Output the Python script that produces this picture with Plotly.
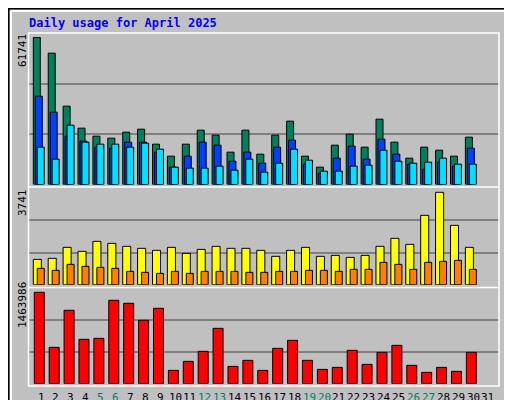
import plotly.graph_objects as go

days = list(range(1, 32))
day_labels = [str(d) for d in days]
weekend_days = [5, 6, 12, 13, 19, 20, 26, 27]
hits = [61741,55160,32900,23660,20300,19460,21980,23240,16940,11900,16940,22820,20720,13580,22820,12740,20720,26600,11900,7280,16520,21140,15680,27440,17780,11060,15680,14420,11900,19880,None]
files = [37100,30380,20300,18200,15680,15260,17780,17780,13580,7280,11900,17780,16520,9800,13580,8960,15680,18620,8540,4760,11060,16100,10640,19040,12740,8540,6440,9380,7700,15260,None]
pages = [15680,10640,24920,17780,16940,16940,15680,17360,14840,7280,6860,6860,7700,6020,10640,5180,8960,14840,10220,5600,5600,7700,8120,14420,9800,8960,9380,11060,8540,8540,None]
visits = [1026,1067,1512,1350,1755,1674,1553,1472,1391,1512,1269,1431,1553,1472,1472,1391,1148,1391,1512,1148,1188,1107,1188,1553,1877,1634,2808,3741,2403,1512,None]
sites = [662,581,824,743,702,662,540,500,459,540,459,540,540,540,500,500,540,540,581,581,540,621,621,905,824,621,905,945,986,621,None]
kbytes = [1463986,582400,1175500,710600,726600,1335800,1287700,1015200,1207500,213700,358000,518300,886900,277800,374000,213700,566400,694600,374000,229700,261800,534300,309900,502200,614400,293900,181700,261800,197700,502200,None]

W, H = 512, 400
FONT = "DejaVu Sans Mono"
C_HITS, C_FILES, C_PAGES = "#00805C", "#0040FF", "#00E0FF"
C_VISITS, C_SITES, C_KB = "#FFFF00", "#FF8000", "#FF0000"

def py(p):
    return 1 - p / H

fig = go.Figure()
line = dict(color="black", width=1)
fig.add_bar(x=days, y=hits, width=0.47, offset=-0.515, marker=dict(color=C_HITS, line=line), xaxis="x", yaxis="y")
fig.add_bar(x=days, y=files, width=0.47, offset=-0.385, marker=dict(color=C_FILES, line=line), xaxis="x", yaxis="y")
fig.add_bar(x=days, y=pages, width=0.47, offset=-0.25, marker=dict(color=C_PAGES, line=line), xaxis="x", yaxis="y")
fig.add_bar(x=days, y=visits, width=0.54, offset=-0.517, marker=dict(color=C_VISITS, line=line), xaxis="x2", yaxis="y2")
fig.add_bar(x=days, y=sites, width=0.47, offset=-0.25, marker=dict(color=C_SITES, line=line), xaxis="x2", yaxis="y2")
fig.add_bar(x=days, y=kbytes, width=0.67, offset=-0.45, marker=dict(color=C_KB, line=line), xaxis="x3", yaxis="y3")

xdom = [20.5 / W, 491 / W]
xr = [0.161, 31.74]
common_x = dict(domain=xdom, range=xr, showgrid=False, zeroline=False, fixedrange=True, showticklabels=False, ticks="")
ymax1 = 61741 * 151.5 / 147
ymax2 = 3741 * 96.4 / 92.4
ymax3 = 1463986 * 95.4 / 91.4
def yax(dom, ymax, anchor):
    return dict(domain=dom, range=[0, ymax], anchor=anchor, tickvals=[ymax / 3, 2 * ymax / 3],
                showticklabels=False, ticks="", showgrid=True, gridcolor="#808080", gridwidth=2, zeroline=False)

fig.update_layout(
    width=W, height=H, margin=dict(l=0, r=0, t=0, b=0),
    paper_bgcolor="#C0C0C0", plot_bgcolor="#C0C0C0", showlegend=False, barmode="overlay",
    font=dict(family=FONT, size=11, color="black"),
    xaxis=dict(**common_x, anchor="y"),
    xaxis2=dict(**common_x, anchor="y2"),
    xaxis3=dict(**common_x, anchor="y3"),
    yaxis=yax([py(176.5), py(25)], ymax1, "x"),
    yaxis2=yax([py(276.7), py(180.3)], ymax2, "x2"),
    yaxis3=yax([py(375.7), py(280.3)], ymax3, "x3"),
)

shapes = [
    dict(type="rect", xref="paper", yref="paper", x0=0, x1=1, y0=0, y1=1, line=dict(color="black", width=3)),
    dict(type="line", xref="paper", yref="paper", x0=3/W, x1=509/W, y0=py(3), y1=py(3), line=dict(color="white", width=2)),
    dict(type="line", xref="paper", yref="paper", x0=3/W, x1=3/W, y0=py(3), y1=py(397), line=dict(color="white", width=2)),
    dict(type="line", xref="paper", yref="paper", x0=3/W, x1=509/W, y0=py(396), y1=py(396), line=dict(color="#808080", width=3)),
    dict(type="line", xref="paper", yref="paper", x0=508/W, x1=508/W, y0=py(3), y1=py(397), line=dict(color="#808080", width=3)),
    dict(type="rect", xref="paper", yref="paper", x0=20.5/W, x1=491/W, y0=py(378), y1=py(25), line=dict(color="white", width=1.5)),
    dict(type="line", xref="paper", yref="paper", x0=20.5/W, x1=491/W, y0=py(179), y1=py(179), line=dict(color="white", width=1.5)),
    dict(type="line", xref="paper", yref="paper", x0=20.5/W, x1=491/W, y0=py(279.5), y1=py(279.5), line=dict(color="white", width=1.5)),
]
fig.update_layout(shapes=shapes)

def ann(text, x, y, color="black", angle=0, anchor_x="center", anchor_y="middle", size=11, bold=False, xref="paper"):
    fig.add_annotation(text=f"<b>{text}</b>" if bold else text, xref=xref, yref="paper", x=x, y=y,
                       xanchor=anchor_x, yanchor=anchor_y, showarrow=False, textangle=angle,
                       font=dict(family=FONT, size=size, color=color))

for d, l in zip(days, day_labels):
    ann(l, d, py(389), color=C_HITS if d in weekend_days else "black", xref="x3", size=11)

ann("Daily usage for April 2025", 19/W, py(15), color="#0000FF", anchor_x="left", size=12, bold=True)
ann(str(max(v for v in hits if v)), 14/W, py(43), angle=-90)
ann(str(max(v for v in visits if v)), 14/W, py(195), angle=-90)
ann(str(max(v for v in kbytes if v)), 14/W, py(297), angle=-90)
sep = "<span style='color:#808080'> / </span>"
ann(f"<span style='color:{C_PAGES}'>Pages</span>{sep}<span style='color:{C_FILES}'>Files</span>{sep}<span style='color:{C_HITS}'>Hits</span>",
    501/W, py(27), angle=-90, anchor_y="top")
ann(f"<span style='color:{C_SITES}'>Sites</span>{sep}<span style='color:{C_VISITS}'>Visits</span>",
    501/W, py(198), angle=-90, anchor_y="top")
ann(f"<span style='color:{C_KB}'>KBytes</span>", 501/W, py(340), angle=-90, anchor_y="top")

fig.write_html("out.html")
